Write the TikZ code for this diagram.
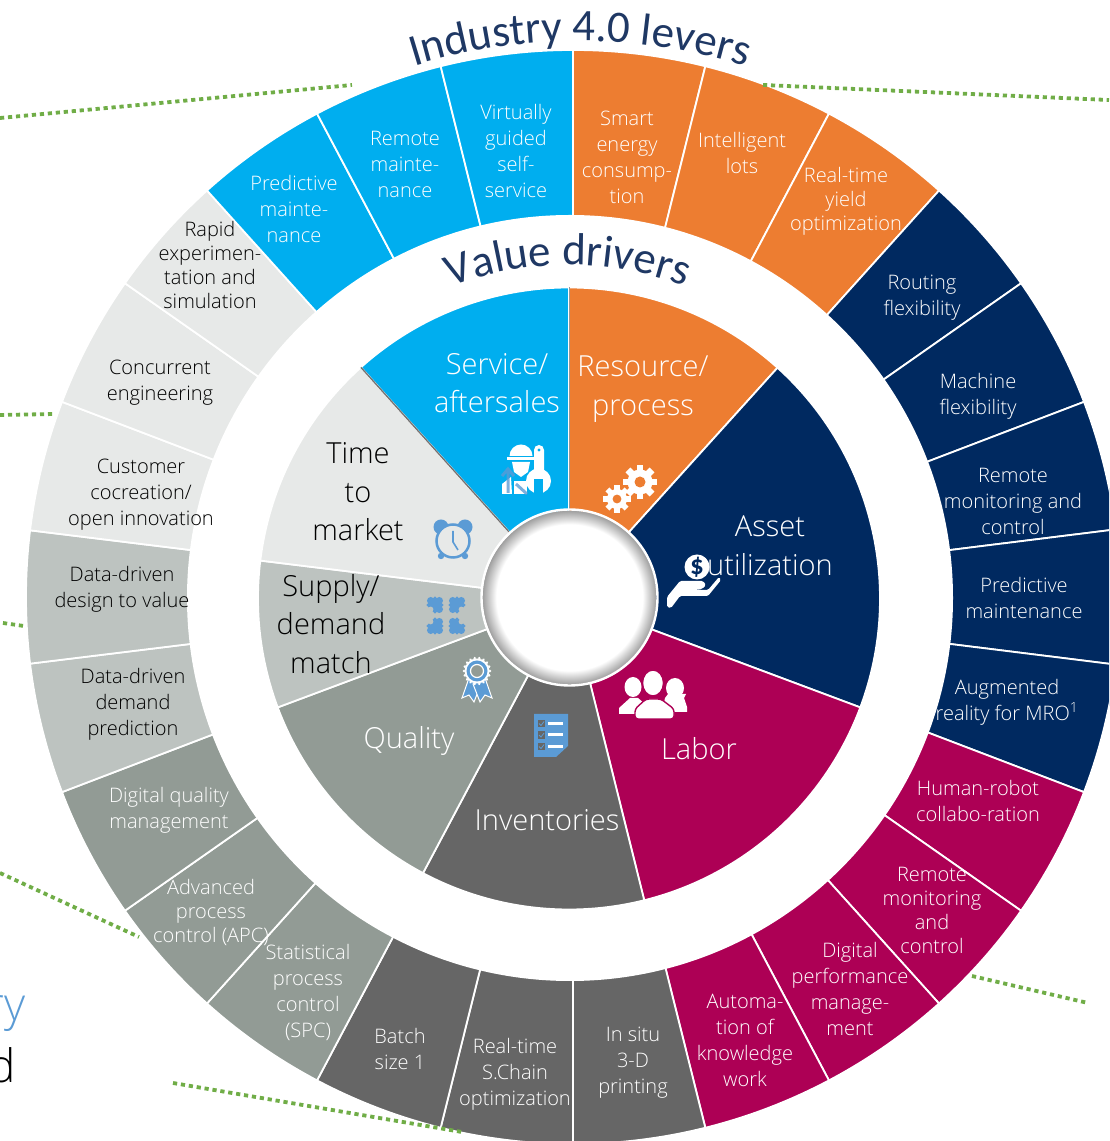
\documentclass[tikz,border=0pt]{standalone}
\usepackage{fontspec}
\usepackage{tikz}
\usetikzlibrary{decorations.text}
\newfontfamily\lightfont{Open Sans Light}
\newfontfamily\titlefont{Carlito}
\definecolor{cblue}{HTML}{00AEEF}
\definecolor{corange}{HTML}{ED7D31}
\definecolor{cnavy}{HTML}{002960}
\definecolor{cmagenta}{HTML}{AD0055}
\definecolor{cdark}{HTML}{666666}
\definecolor{csage}{HTML}{929B95}
\definecolor{cgrey}{HTML}{BDC3C0}
\definecolor{clight}{HTML}{E7E9E8}
\definecolor{ctitle}{HTML}{1F3864}
\definecolor{cicon}{HTML}{5B9BD5}
\definecolor{cdots}{HTML}{70AD47}
\pgfdeclareradialshading{hubshade}{\pgfpointorigin}{color(0bp)=(white); color(21bp)=(white); color(25bp)=(black!38); color(50bp)=(black!38)}
\tikzset{
  lever/.style={align=center,text=white,inner sep=0pt,font=\lightfont\fontsize{20}{26}\selectfont},
  levertight/.style={lever,font=\lightfont\fontsize{20}{24}\selectfont},
  leverdark/.style={text=black},
  driver/.style={align=center,text=white,inner sep=0pt,font=\lightfont\fontsize{29}{38.5}\selectfont},
  driverdark/.style={driver,text=black},
  dotline/.style={cdots,line width=3.8pt,dash pattern=on 4.2pt off 3.8pt},
  gear/.pic={
    \fill[white] (0,0) circle (12.5);
    \foreach \a in {0,45,...,315}
      \fill[white,rotate=\a] (-3.4,10) rectangle (3.4,17);
    \fill[corange] (0,0) circle (5.5);
  },
  puzzle/.pic={
    \fill[cicon] (-5.5,-5.5) rectangle (5.5,5.5);
    \fill[cicon] (5.5,0) circle (3.4);
    \fill[cicon] (0,5.5) circle (3.4);
    \fill[cicon] (0,-5.5) circle (3.4);
    \fill[cgrey] (-5.5,0) circle (2.4);
  },
}
\begin{document}
\begin{tikzpicture}[x=1pt,y=1pt]
  \useasboundingbox (0,0) rectangle (1109,1141);
  \clip (0,0) rectangle (1109,1141);
  \coordinate (ring) at (573,544);
  \coordinate (gap) at (570,543);
  \coordinate (wheel) at (569,542.5);
  \coordinate (hub) at (569.5,543.5);
  % dotted lines that run behind the ring
  \begin{scope}[yshift=1141pt,yscale=-1]
    \coordinate (d1a) at (0,118);
    \coordinate (d1b) at (352,85);
    \coordinate (d2a) at (0,415);
    \coordinate (d2b) at (55,414);
    \coordinate (d3a) at (3,623);
    \coordinate (d3b) at (24,626);
    \coordinate (d4a) at (0,873);
    \coordinate (d4b) at (139,937);
    \draw[dotline] (d1a) -- (d1b);
    \draw[dotline] (d2a) -- (d2b);
    \draw[dotline] (d3a) -- (d3b);
    \draw[dotline] (d4a) -- (d4b);
  \end{scope}
  % outer ring
  \foreach \cw/\cwnext/\col in {0/14/corange,14/27.9/corange,27.9/42/corange,42/55/cnavy,55/69.1/cnavy,
      69.1/82.9/cnavy,82.9/97.1/cnavy,97.1/110.9/cnavy,110.9/125/cmagenta,125/138/cmagenta,
      138/152.1/cmagenta,152.1/166/cmagenta,166/180/cdark,180/194/cdark,194/207.9/cdark,
      207.9/222/csage,222/235/csage,235/249.1/csage,249.1/263/cgrey,263/277/cgrey,
      277/290.9/clight,290.9/305/clight,305/318/clight,318/332.1/cblue,332.1/346/cblue,346/360/cblue} {
    \pgfmathsetmacro\from{90-\cw}
    \pgfmathsetmacro\to{90-\cwnext}
    \filldraw[fill=\col,draw=white,line width=1.8pt,shift={(ring)}]
      (0,0) -- (\from:547) arc[start angle=\from,end angle=\to,radius=547] -- cycle;
  }
  \fill[white] (gap) circle (383);
  % inner wheel
  \foreach \from/\to/\col in {90/47.9/corange,47.9/-20.5/cnavy,-20.5/-76/cmagenta,-76/-118/cdark,
      -118/-159.5/csage,-159.5/-187/cgrey,-187/-228/clight,-228/-270/cblue} {
    \filldraw[fill=\col,draw=white,line width=1.8pt,shift={(wheel)}]
      (0,0) -- (\from:311) arc[start angle=\from,end angle=\to,radius=311] -- cycle;
  }
  \draw[black!55,line width=1.4pt,shift={(wheel)}] (0,0) -- (132:311);
  \draw[black!40,line width=.8pt,shift={(wheel)}] (0,0) -- (90:311);
  % hub
  \shade[shading=hubshade] (hub) circle (87);
  \draw[white,line width=2.4pt] (hub) circle (88);
  % curved titles
  \path[decorate,decoration={text along path,text align=center,text color=ctitle,
      text={|\titlefont\fontsize{45}{45}\selectfont|Industry 4.0 levers}},shift={(580,544)}]
    (110:556) arc[start angle=110,end angle=70,radius=556];
  \path[decorate,decoration={text along path,text align=center,text color=ctitle,
      text={|\titlefont\fontsize{45}{45}\selectfont|Value drivers}},shift={(568,544)}]
    (115:332) arc[start angle=115,end angle=65,radius=332];
  \begin{scope}[yshift=1141pt,yscale=-1]
    % dotted lines on top of the ring
    \coordinate (d5a) at (763,85);
    \coordinate (d5b) at (1109,100);
    \coordinate (d6a) at (173,1083);
    \coordinate (d6b) at (462,1132);
    \coordinate (d7a) at (972,976);
    \coordinate (d7b) at (1088,1003);
    \draw[dotline] (d5a) -- (d5b);
    \draw[dotline] (d6a) -- (d6b);
    \draw[dotline] (d7a) -- (d7b);
    % icons
    \fill[white] (509.5,456) arc[start angle=180,end angle=360,radius=11.5] -- cycle;
    \fill[white] (507,457) rectangle (535,460);
    \fill[white] (512,462) -- (530,462) -- (528,472) -- (521,477) -- (514,472) -- cycle;
    \fill[white] (502,494) -- (502,484) -- (511,477) -- (512,494) -- cycle;
    \fill[white] (514,481) -- (527,481) -- (527,494) -- (514,494) -- cycle;
    \draw[cicon,line width=3pt,opacity=.8] (508,493) -- (508,470) (502,476) -- (508,469) -- (514,476)
      (516,484) -- (527,494);
    \fill[white] (534,450) arc[start angle=180,end angle=360,radius=5] -- (544,472) -- (534,472) -- cycle;
    \fill[white] (538.5,481) circle (12.5);
    \fill[cblue] (534,479) rectangle (543,495);
    \fill[cblue] (539,450) circle (1.6);
    \pic at (640,482) {gear};
    \pic[scale=.8] at (617,499) {gear};
    \fill[cicon] (441,527) circle (7.5);
    \fill[cicon] (465,527) circle (7.5);
    \fill[cicon] (441,556) circle (3.2);
    \fill[cicon] (465,556) circle (3.2);
    \filldraw[fill=clight,draw=cicon,line width=2.5pt] (453,541) circle (16.5);
    \draw[cicon,line width=1.6pt] (453,531) -- (453,542) -- (458,550);
    \pic[rotate=45,scale=1.1] at (435,605) {puzzle};
    \pic[rotate=135,scale=1.1] at (457,605) {puzzle};
    \pic[rotate=-45,scale=1.1] at (435,626) {puzzle};
    \pic[rotate=-135,scale=1.1] at (457,626) {puzzle};
    \filldraw[fill=cicon,draw=white,line width=1pt] (469,678) -- (462,698) -- (469,695) -- (474,702) -- (481,684) -- cycle;
    \filldraw[fill=cicon,draw=white,line width=1pt] (485,678) -- (492,698) -- (485,695) -- (480,702) -- (473,684) -- cycle;
    \fill[white] (477,671) circle (12.5);
    \foreach \a in {0,20,...,340}
      \fill[white,shift={(477,671)},rotate=\a] (13,0) circle (1.4);
    \fill[cicon] (477,671) circle (10.5);
    \filldraw[fill=csage,draw=white,line width=1.2pt] (477,671) circle (6.5);
    \fill[cicon] (534,714) -- (568,714) -- (568,746) -- (556,757) -- (534,757) -- cycle;
    \foreach \y in {723.5,735,746.5} {
      \fill[cdark] (537.5,\y-3.7) rectangle (545,\y+3.7);
      \draw[cicon,line width=.8pt] (539,\y) -- (541,\y+2) -- (544,\y-2);
      \fill[white] (548,\y-1.5) rectangle (563,\y+1.5);
    }
    \fill[white] (633,687) ellipse (8.5 and 10);
    \fill[white] (619,714) -- (619,708) -- (630,698) -- (638,698) -- (645,704) -- (645,714) -- cycle;
    \fill[white] (675,688) ellipse (9 and 10);
    \fill[white] (665,698) -- (668,694) -- (686,694) -- (684,698) -- (687,707) -- (687,712) -- (662,712) -- cycle;
    \filldraw[fill=white,draw=cmagenta,line width=1.4pt] (653,683) ellipse (10.5 and 13);
    \filldraw[fill=white,draw=cmagenta,line width=1.4pt,rounded corners=3pt] (635,719) -- (635,709)
      -- (646,699) -- (661,699) -- (674,709) -- (674,719) -- cycle;
    \fill[white] (697,567) circle (12.5);
    \node[inner sep=0pt,text=cnavy,font=\titlefont\bfseries\fontsize{27}{27}\selectfont] (dollar) at (697,567) {\$};
    \fill[white,rounded corners=1.5pt] (667,607) -- (667,597) -- (680,581) -- (703,581) -- (706,585)
      -- (702,589) -- (692,590) -- (708,590) -- (719,577) -- (721,580) -- (708,596) -- (680,596)
      -- (671,608) -- cycle;
    % outer labels
    \node[lever] (virtual) at (516,151) {Virtually\\guided\\self-\\service};
    \node[lever] (remoteblue) at (405,164) {Remote\\mainte-\\nance};
    \node[lever] (predblue) at (294,209) {Predictive\\mainte-\\nance};
    \node[levertight,leverdark] (rapid) at (210,265) {Rapid\\experimen-\\tation and\\simulation};
    \node[lever,leverdark] (concur) at (160,383) {Concurrent\\engineering};
    \node[lever,leverdark] (cocreate) at (141,495) {Customer\\cocreation/\\open innovation};
    \node[lever,leverdark] (design) at (122,589) {Data-driven\\design to value};
    \node[lever,leverdark] (demand) at (133,704) {Data-driven\\demand\\prediction};
    \node[lever] (quality) at (169,810) {Digital quality\\management};
    \node[levertight] (apc) at (211,912) {Advanced\\process\\control (APC)};
    \node[lever] (spc) at (308,992) {Statistical\\process\\control\\(SPC)};
    \node[lever] (batch) at (400,1049) {Batch\\size 1};
    \node[lever] (schain) at (515,1074) {Real-time\\S.Chain\\optimization};
    \node[lever] (insitu) at (633,1063) {In situ\\3-D\\printing};
    \node[lever] (autom) at (745,1040) {Automa-\\tion of\\knowledge\\work};
    \node[lever] (perform) at (850,989) {Digital\\performance\\manage-\\ment};
    \node[levertight] (remotemag) at (932,910) {Remote\\monitoring\\and\\control};
    \node[lever] (robot) at (978,801) {Human-robot\\collabo-ration};
    \node[lever] (mro) at (1007,702) {Augmented\\reality for MRO\textsuperscript{1}};
    \node[lever] (prednavy) at (1024,598) {Predictive\\maintenance};
    \node[lever] (remotenavy) at (1013,501) {Remote\\monitoring and\\control};
    \node[lever] (machine) at (978,396) {Machine\\flexibility};
    \node[lever] (routing) at (922,298) {Routing\\flexibility};
    \node[levertight] (yield) at (846,201) {Real-time\\yield\\optimization};
    \node[lever] (lots) at (742,153) {Intelligent\\lots};
    \node[lever] (energy) at (627,157) {Smart\\energy\\consump-\\tion};
    % inner labels
    \node[driver] (service) at (497,383) {Service/\\aftersales};
    \node[driver] (resource) at (643,389) {Resource/\\process};
    \node[driver] (asset) at (770,546) {Asset\\utilization};
    \node[driver] (labor) at (699,749) {Labor};
    \node[driver] (invent) at (547,820) {Inventories};
    \node[driver] (qual) at (409,741) {Quality};
    \node[driverdark] (supply) at (331,624) {Supply/\\demand\\match};
    \node[driverdark] (market) at (358,492) {Time\\to\\market};
    % clipped words at the lower left
    \node[anchor=base east,inner sep=0pt,text=cicon,font=\lightfont\fontsize{46}{46}\selectfont] (wordry) at (26,1021) {ry};
    \node[anchor=base east,inner sep=0pt,text=black,font=\lightfont\fontsize{46}{46}\selectfont] (wordd) at (16,1083) {d};
  \end{scope}
\end{tikzpicture}
\end{document}
